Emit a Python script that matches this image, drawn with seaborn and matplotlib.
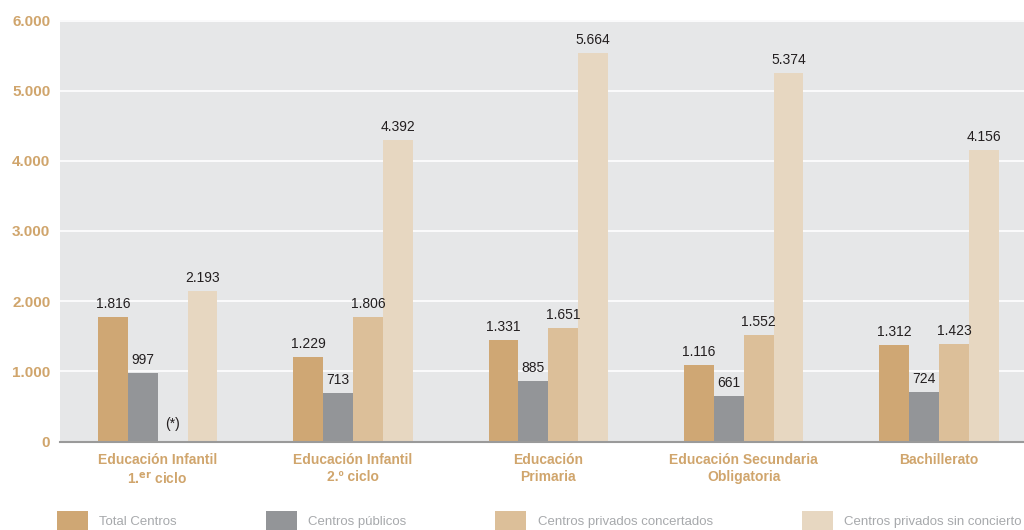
import numpy as np
import pandas as pd
import matplotlib
matplotlib.use("Agg")
import matplotlib.pyplot as plt
import seaborn as sns
from matplotlib.patches import Patch

categories = ["Educación Infantil\n1.$^{\\mathbf{er}}$ ciclo", "Educación Infantil\n2.º ciclo",
              "Educación\nPrimaria", "Educación Secundaria\nObligatoria", "Bachillerato"]
series = ["Total Centros", "Centros públicos", "Centros privados concertados",
          "Centros privados sin concierto"]
# bar heights as drawn in the picture
total = [1774, 1204, 1446, 1090, 1375]
publicos = [976, 690, 862, 648, 705]
concertados = [np.nan, 1774, 1617, 1518, 1389]
sin_concierto = [2145, 4297, 5536, 5251, 4154]
# printed value labels
lab_total = ["1.816", "1.229", "1.331", "1.116", "1.312"]
lab_publicos = ["997", "713", "885", "661", "724"]
lab_concertados = ["(*)", "1.806", "1.651", "1.552", "1.423"]
lab_sin = ["2.193", "4.392", "5.664", "5.374", "4.156"]
yticks = [0, 1000, 2000, 3000, 4000, 5000, 6000]
ytick_labels = ["0", "1.000", "2.000", "3.000", "4.000", "5.000", "6.000"]

colors = ["#cfa774", "#939598", "#dcbf99", "#e7d7c1"]
tan = "#d0a56c"

rows = []
for s, vals in zip(series, [total, publicos, concertados, sin_concierto]):
    for c, v in zip(categories, vals):
        rows.append({"cat": c, "serie": s, "val": v})
df = pd.DataFrame(rows)

sns.set_theme(style="white")
plt.rcParams["font.family"] = ["Liberation Sans", "DejaVu Sans"]

fig = plt.figure(figsize=(10.24, 5.30), dpi=100)
ax = fig.add_axes([60 / 1024, 88.5 / 530, 1 - 60 / 1024, 421 / 530])
ax.set_facecolor("#e6e7e8")

sns.barplot(data=df, x="cat", y="val", hue="serie", order=categories, hue_order=series,
            palette=colors, width=0.612, saturation=1, ax=ax, legend=False,
            linewidth=0, edgecolor="none")

ax.set_ylim(0, 6000)
ax.set_xlim(-0.496, 4.435)
ax.set_yticks(yticks)
ax.set_yticklabels(ytick_labels, fontsize=11, fontweight="bold", color=tan)
ax.yaxis.grid(True, color="white", linewidth=1.2)
ax.set_axisbelow(True)
ax.tick_params(axis="y", length=0, pad=7)

ax.set_xticks(range(len(categories)))
ax.set_xticklabels(categories, fontsize=10, fontweight="bold", color=tan, linespacing=1.35)
ax.tick_params(axis="x", which="major", length=0, pad=8)
ax.set_xticks([-0.5, 0.5, 1.5, 2.5, 3.5], minor=True)
ax.tick_params(axis="x", which="minor", direction="in", length=10, width=1.2, color="#9a9a9a")
ax.set_xlabel("")
ax.set_ylabel("")
for side in ["top", "right", "left"]:
    ax.spines[side].set_visible(False)
ax.spines["bottom"].set_color("#9a9a9a")
ax.spines["bottom"].set_linewidth(1.5)

labels_all = [lab_total, lab_publicos, lab_concertados, lab_sin]
vals_all = [total, publicos, concertados, sin_concierto]
bw = 0.612 / 4
for k in range(4):
    for i in range(len(categories)):
        x = i - 0.306 + bw * (k + 0.5)
        v = vals_all[k][i]
        if np.isnan(v):
            ax.text(x, 250, labels_all[k][i], ha="center", va="center", fontsize=10, color="#231f20")
        else:
            ax.annotate(labels_all[k][i], (x, v), xytext=(0, 4.5), textcoords="offset points",
                        ha="center", va="bottom", fontsize=10, color="#231f20")

handles = [Patch(facecolor=c, edgecolor="none") for c in colors]
fig.legend(handles, series, loc="upper left", bbox_to_anchor=(57 / 1024, 1 - 511 / 530),
           ncol=4, frameon=False, fontsize=9.5, labelcolor="#a7a9ac",
           handlelength=2.35, handleheight=1.8, handletextpad=0.85, columnspacing=6.75,
           borderpad=0, borderaxespad=0)

fig.savefig("out.png", dpi=100)
